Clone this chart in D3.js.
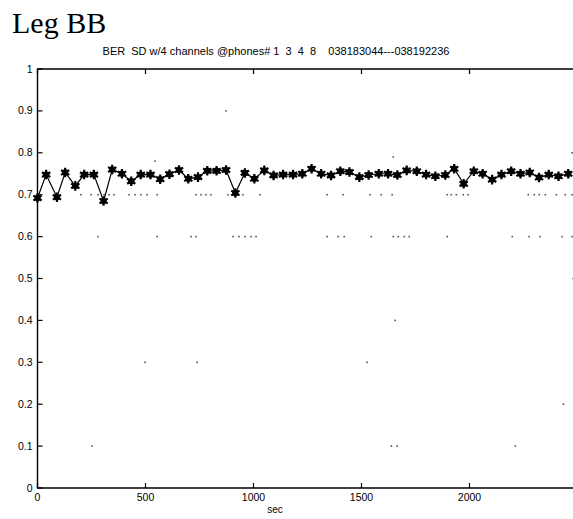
<!DOCTYPE html>
<html><head><meta charset="utf-8">
<script src="https://cdn.jsdelivr.net/npm/d3@7"></script>
<style>body{margin:0;background:#fff}svg{display:block}text{white-space:pre}</style>
</head><body><svg id="c" width="573" height="519"></svg>
<script>
// Mean BER series (star markers)
const starSec = [0,40,90,128,175,216,261,306,346,391,434,478,523,568,611,655,698,743,786,829,873,916,960,1004,1050,1093,1137,1183,1226,1269,1313,1359,1402,1444,1490,1533,1580,1623,1666,1709,1756,1799,1842,1888,1929,1973,2020,2061,2105,2148,2193,2236,2279,2322,2367,2412,2457];
const starBER = [0.692,0.748,0.694,0.753,0.721,0.748,0.748,0.685,0.760,0.750,0.732,0.748,0.748,0.737,0.749,0.759,0.738,0.742,0.757,0.757,0.759,0.704,0.752,0.738,0.758,0.746,0.748,0.748,0.750,0.762,0.750,0.746,0.756,0.754,0.742,0.747,0.750,0.750,0.747,0.758,0.756,0.748,0.744,0.747,0.762,0.726,0.756,0.750,0.736,0.748,0.756,0.750,0.753,0.741,0.748,0.744,0.750];
// Per-channel BER samples (small dots)
const dot70Sec = [201,248,280,308,331,354,424,452,479,507,554,734,757,780,803,882,905,951,1030,1341,1415,1540,1591,1642,1897,1915,1939,1971,1994,2272,2300,2323,2351,2402,2443,2475];
const dot60Sec = [280,554,711,734,905,933,961,989,1012,1341,1392,1420,1545,1647,1670,1698,1721,1897,2198,2276,2327,2429,2475];
const otherDotSec = [544,1647,2475,873,2480,1656,1526,2435,1638,1665,2212,252,498,739];
const otherDotBER = [0.78,0.79,0.8,0.9,0.5,0.4,0.3,0.2,0.1,0.1,0.1,0.1,0.3,0.3];
const xTicks = [0,500,1000,1500,2000];
const yTicks = [0,0.1,0.2,0.3,0.4,0.5,0.6,0.7,0.8,0.9,1];
const yTickLabels = ["0","0.1","0.2","0.3","0.4","0.5","0.6","0.7","0.8","0.9","1"];

const svg = d3.select("#c");
const x = d3.scaleLinear().domain([0,2500]).range([37.5,577.5]);
const y = d3.scaleLinear().domain([0,1]).range([488,69]);

svg.append("text").attr("x",12).attr("y",33)
  .attr("font-family","'Liberation Serif',serif").attr("font-size",30).text("Leg BB");
svg.append("text").attr("x",276).attr("y",55).attr("text-anchor","middle")
  .attr("font-family","'Liberation Sans',Arial,sans-serif").attr("font-size",11)
  .text("BER  SD w/4 channels @phones# 1  3  4  8    038183044---038192236");

// frame (top, left, bottom)
svg.append("path").attr("fill","none").attr("stroke","#000").attr("stroke-width",1.4)
  .attr("d",`M${x(2500)},${y(1)}H${x(0)}V${y(0)}H${x(2500)}`);

// y ticks (inward)
const yAx = svg.append("g");
yTicks.forEach((t,i)=>{
  yAx.append("line").attr("x1",x(0)).attr("x2",x(0)+5).attr("y1",y(t)).attr("y2",y(t)).attr("stroke","#000").attr("stroke-width",1.2);
  yAx.append("text").attr("x",x(0)-5).attr("y",y(t)+3.5).attr("text-anchor","end")
    .attr("font-family","'Liberation Sans',Arial,sans-serif").attr("font-size",10.5).text(yTickLabels[i]);
});
// x ticks (inward, top and bottom)
const xAx = svg.append("g");
xTicks.forEach(t=>{
  xAx.append("line").attr("x1",x(t)).attr("x2",x(t)).attr("y1",y(0)).attr("y2",y(0)-5).attr("stroke","#000").attr("stroke-width",1.2);
  xAx.append("line").attr("x1",x(t)).attr("x2",x(t)).attr("y1",y(1)).attr("y2",y(1)+5).attr("stroke","#000").attr("stroke-width",1.2);
  xAx.append("text").attr("x",x(t)).attr("y",y(0)+13).attr("text-anchor","middle")
    .attr("font-family","'Liberation Sans',Arial,sans-serif").attr("font-size",10.5).text(String(t));
});
svg.append("text").attr("x",275).attr("y",513).attr("text-anchor","middle")
  .attr("font-family","'Liberation Sans',Arial,sans-serif").attr("font-size",10).text("sec");

// small dots
const dots = [];
dot70Sec.forEach(s=>dots.push([s,0.7]));
dot60Sec.forEach(s=>dots.push([s,0.6]));
otherDotSec.forEach((s,i)=>dots.push([s,otherDotBER[i]]));
svg.append("g").selectAll("rect").data(dots).join("rect")
  .attr("x",d=>x(d[0])-0.8).attr("y",d=>y(d[1])-0.8).attr("width",1.6).attr("height",1.6).attr("fill","#555");

// star series
const pts = starSec.map((s,i)=>[s,starBER[i]]);
svg.append("path").datum(pts).attr("fill","none").attr("stroke","#000").attr("stroke-width",1.2)
  .attr("d",d3.line().x(d=>x(d[0])).y(d=>y(d[1])));
const g = svg.append("g");
g.selectAll("path.s").data(pts).join("path").attr("class","s")
  .attr("transform",d=>`translate(${x(d[0])},${y(d[1])})`)
  .attr("d",d3.symbol(d3.symbolAsterisk,64)).attr("fill","none").attr("stroke","#000").attr("stroke-width",2.2);
g.selectAll("circle").data(pts).join("circle")
  .attr("cx",d=>x(d[0])).attr("cy",d=>y(d[1])).attr("r",3.2).attr("fill","#000");
</script></body></html>
